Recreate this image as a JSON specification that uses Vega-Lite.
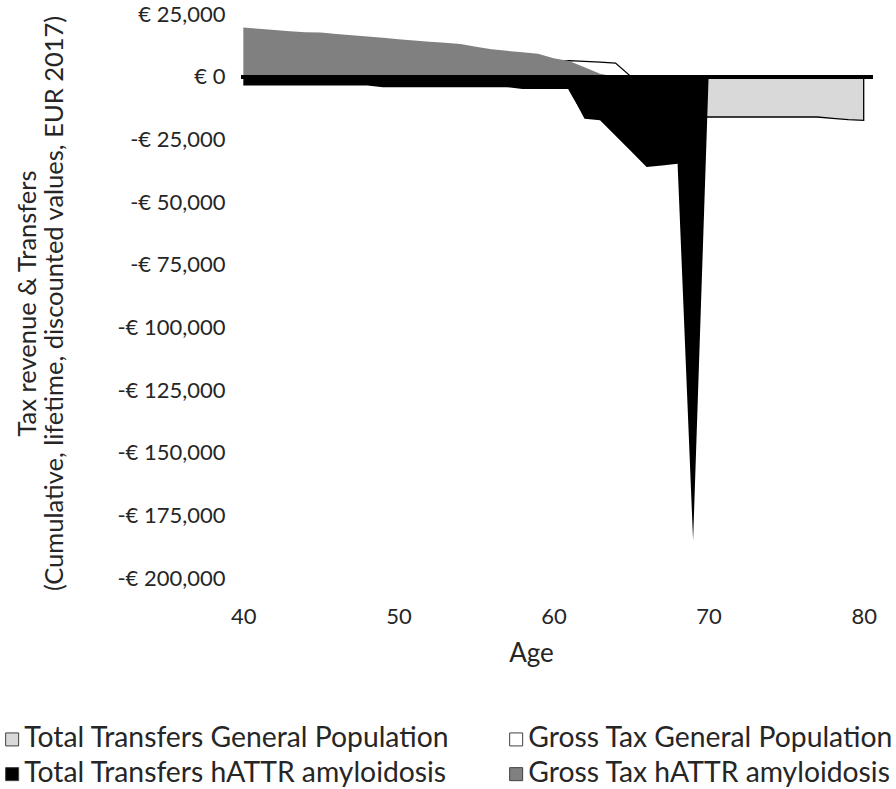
{
  "$schema": "https://vega.github.io/schema/vega-lite/v6.json",
  "width": 632,
  "height": 564,
  "autosize": {"type": "none"},
  "padding": {"left": 241, "top": 14, "right": 23, "bottom": 211},
  "background": "white",
  "config": {
    "view": {"stroke": null},
    "font": "Lato",
    "axis": {"grid": false}
  },
  "data": {
    "values": [
      {"age": 40, "tth": -3500, "gth": 19600},
      {"age": 41, "tth": -3500, "gth": 19100},
      {"age": 42, "tth": -3500, "gth": 18600},
      {"age": 43, "tth": -3500, "gth": 18100},
      {"age": 44, "tth": -3500, "gth": 17700},
      {"age": 45, "tth": -3500, "gth": 17600},
      {"age": 46, "tth": -3500, "gth": 17000},
      {"age": 47, "tth": -3500, "gth": 16500},
      {"age": 48, "tth": -3500, "gth": 16000},
      {"age": 49, "tth": -4200, "gth": 15500},
      {"age": 50, "tth": -4200, "gth": 14900},
      {"age": 51, "tth": -4200, "gth": 14400},
      {"age": 52, "tth": -4200, "gth": 13900},
      {"age": 53, "tth": -4200, "gth": 13500},
      {"age": 54, "tth": -4200, "gth": 13000},
      {"age": 55, "tth": -4200, "gth": 11900},
      {"age": 56, "tth": -4200, "gth": 10900},
      {"age": 57, "tth": -4200, "gth": 10300},
      {"age": 58, "tth": -4900, "gth": 9700},
      {"age": 59, "tth": -4900, "gth": 9100},
      {"age": 60, "gtgp": 6000, "tth": -4900, "gth": 7300},
      {"age": 61, "ttgp": -5100, "gtgp": 6400, "tth": -4900, "gth": 6300},
      {"age": 62, "ttgp": -15800, "gtgp": 6100, "tth": -16800, "gth": 3800},
      {"age": 63, "ttgp": -16000, "gtgp": 5800, "tth": -17400, "gth": 1200},
      {"age": 64, "ttgp": -16000, "gtgp": 5400, "tth": -23600, "gth": 0},
      {"age": 65, "ttgp": -16000, "gtgp": 0, "tth": -29800, "gth": 0},
      {"age": 66, "ttgp": -16000, "gtgp": 0, "tth": -36000, "gth": 0},
      {"age": 67, "ttgp": -16000, "gtgp": 0, "tth": -35400, "gth": 0},
      {"age": 68, "ttgp": -16000, "gtgp": 0, "tth": -34700, "gth": 0},
      {"age": 69, "ttgp": -16000, "gtgp": 0, "tth": -185000, "gth": 0},
      {"age": 70, "ttgp": -16100, "gtgp": 0, "tth": 0, "gth": 0},
      {"age": 71, "ttgp": -16100, "gtgp": 0, "tth": 0, "gth": 0},
      {"age": 72, "ttgp": -16100, "gtgp": 0, "tth": 0, "gth": 0},
      {"age": 73, "ttgp": -16100, "gtgp": 0, "tth": 0, "gth": 0},
      {"age": 74, "ttgp": -16100, "gtgp": 0, "tth": 0, "gth": 0},
      {"age": 75, "ttgp": -16100, "gtgp": 0, "tth": 0, "gth": 0},
      {"age": 76, "ttgp": -16100, "gtgp": 0, "tth": 0, "gth": 0},
      {"age": 77, "ttgp": -16100, "gtgp": 0, "tth": 0, "gth": 0},
      {"age": 78, "ttgp": -16600, "gtgp": 0, "tth": 0, "gth": 0},
      {"age": 79, "ttgp": -17100, "gtgp": 0, "tth": 0, "gth": 0},
      {"age": 80, "ttgp": -17400, "gtgp": 0, "tth": 0, "gth": 0}
    ]
  },
  "transform": [
    {"fold": ["ttgp", "gtgp", "tth", "gth"], "as": ["series", "value"]}
  ],
  "encoding": {
    "x": {
      "field": "age",
      "type": "quantitative",
      "scale": {"domain": [39.85, 80.6], "nice": false, "zero": false},
      "axis": {
        "values": [40, 50, 60, 70, 80],
        "domain": false,
        "ticks": false,
        "tickSize": 0,
        "labelFontSize": 22,
        "labelColor": "#262626",
        "labelPadding": 28,
        "title": "Age",
        "titleFontSize": 26,
        "titleFontWeight": "normal",
        "titleColor": "#262626",
        "titlePadding": 13,
        "titleX": 290
      }
    },
    "y": {
      "field": "value",
      "type": "quantitative",
      "stack": null,
      "scale": {"domain": [-200000, 25000], "nice": false, "zero": false},
      "axis": {
        "values": [-200000, -175000, -150000, -125000, -100000, -75000, -50000, -25000, 0, 25000],
        "labelExpr": "datum.value < 0 ? '-€ ' + format(-datum.value, ',') : '€ ' + format(datum.value, ',')",
        "domain": false,
        "ticks": false,
        "tickSize": 0,
        "labelFontSize": 22,
        "labelColor": "#262626",
        "labelPadding": 16,
        "title": ["Tax revenue & Transfers", "(Cumulative, lifetime, discounted values, EUR 2017)"],
        "titleFontSize": 25.5,
        "titleFontWeight": "normal",
        "titleColor": "#262626",
        "titleAngle": -90,
        "titleAlign": "center",
        "titleBaseline": "alphabetic",
        "titleLineHeight": 27,
        "titleX": -206,
        "titleY": 289
      }
    },
    "color": {
      "datum": "Total Transfers General Population",
      "scale": {
        "domain": ["Total Transfers General Population", "Gross Tax General Population", "Total Transfers hATTR amyloidosis", "Gross Tax hATTR amyloidosis"],
        "range": ["#d9d9d9", "#ffffff", "#000000", "#808080"]
      },
      "legend": {
        "orient": "none",
        "legendX": -243,
        "legendY": 711,
        "columns": 2,
        "direction": "horizontal",
        "title": null,
        "symbolType": "square",
        "symbolSize": 169,
        "symbolStrokeColor": "#404040",
        "symbolStrokeWidth": 1,
        "labelFontSize": 28.3,
        "labelColor": "#262626",
        "labelLimit": 0,
        "labelOffset": -2,
        "columnPadding": 52,
        "rowPadding": 6
      }
    }
  },
  "layer": [
    {
      "transform": [{"filter": "datum.series == 'ttgp'"}],
      "mark": {"type": "area", "stroke": "#000", "strokeWidth": 1.3},
      "encoding": {"color": {"datum": "Total Transfers General Population"}}
    },
    {
      "transform": [{"filter": "datum.series == 'gtgp'"}],
      "mark": {"type": "area", "stroke": "#000", "strokeWidth": 1.3},
      "encoding": {"color": {"datum": "Gross Tax General Population"}}
    },
    {
      "transform": [{"filter": "datum.series == 'tth'"}],
      "mark": {"type": "area"},
      "encoding": {"color": {"datum": "Total Transfers hATTR amyloidosis"}}
    },
    {
      "transform": [{"filter": "datum.series == 'gth'"}],
      "mark": {"type": "area"},
      "encoding": {"color": {"datum": "Gross Tax hATTR amyloidosis"}}
    },
    {
      "mark": {"type": "rule", "color": "#000", "strokeWidth": 3},
      "encoding": {"x": null, "color": null, "y": {"datum": 0}}
    }
  ]
}
